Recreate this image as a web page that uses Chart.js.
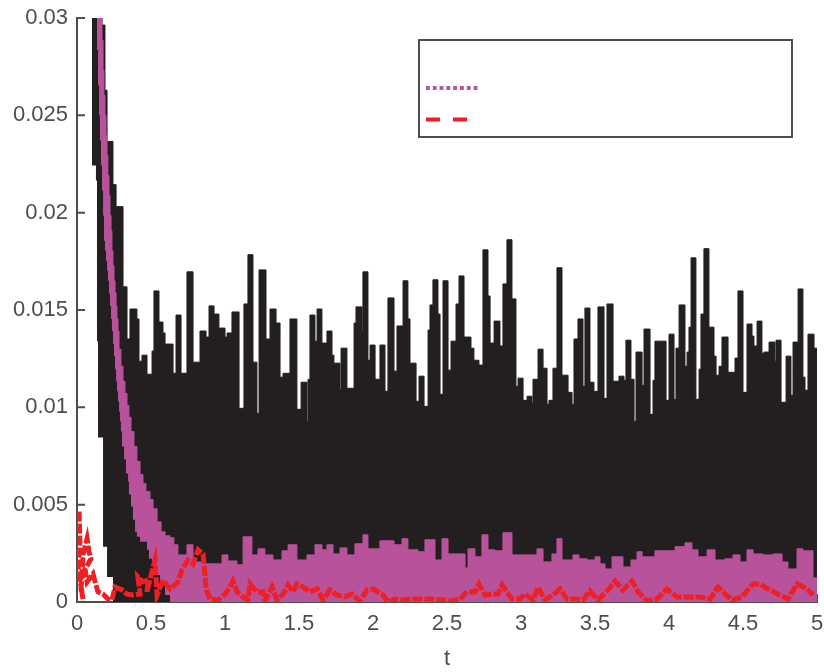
<!DOCTYPE html>
<html>
<head>
<meta charset="utf-8">
<script src="https://cdn.jsdelivr.net/npm/chart.js@4/dist/chart.umd.min.js"></script>
<style>
  html, body { margin: 0; padding: 0; background: #fff; }
  canvas { display: block; }
</style>
</head>
<body>
<canvas id="chart" width="824" height="672"></canvas>
<script>
// Tick labels
const xTickLabels = ['0', '0.5', '1', '1.5', '2', '2.5', '3', '3.5', '4', '4.5', '5'];
const yTickLabels = ['0', '0.005', '0.01', '0.015', '0.02', '0.025', '0.03'];

// Black series: upper edge of the solid band
const blackT = [0.101, 0.169, 0.189, 0.203, 0.243, 0.264, 0.311, 0.338, 0.358, 0.405, 0.419, 0.439, 0.473, 0.507, 0.520, 0.554, 0.581, 0.595, 0.649, 0.669, 0.703, 0.743, 0.784, 0.831, 0.872, 0.892, 0.926, 0.959, 1.000, 1.014, 1.047, 1.095, 1.128, 1.155, 1.189, 1.216, 1.230, 1.277, 1.304, 1.345, 1.372, 1.392, 1.439, 1.486, 1.514, 1.554, 1.561, 1.574, 1.608, 1.622, 1.655, 1.689, 1.723, 1.736, 1.777, 1.784, 1.824, 1.872, 1.885, 1.926, 1.932, 1.966, 1.980, 2.014, 2.047, 2.081, 2.101, 2.142, 2.162, 2.203, 2.236, 2.250, 2.291, 2.311, 2.345, 2.372, 2.385, 2.405, 2.439, 2.453, 2.473, 2.507, 2.527, 2.561, 2.581, 2.615, 2.662, 2.682, 2.716, 2.743, 2.777, 2.791, 2.818, 2.858, 2.878, 2.905, 2.939, 2.966, 2.980, 3.014, 3.041, 3.074, 3.081, 3.115, 3.149, 3.176, 3.189, 3.216, 3.243, 3.277, 3.318, 3.345, 3.358, 3.385, 3.419, 3.432, 3.466, 3.493, 3.520, 3.561, 3.581, 3.622, 3.662, 3.696, 3.709, 3.743, 3.764, 3.777, 3.818, 3.831, 3.872, 3.892, 3.905, 3.980, 4.000, 4.034, 4.047, 4.068, 4.108, 4.122, 4.135, 4.149, 4.182, 4.203, 4.216, 4.236, 4.270, 4.304, 4.318, 4.338, 4.358, 4.399, 4.446, 4.466, 4.500, 4.527, 4.561, 4.574, 4.595, 4.628, 4.642, 4.676, 4.716, 4.723, 4.757, 4.791, 4.824, 4.838, 4.872, 4.905, 4.919, 4.939, 4.980, 5.000];
const blackHigh = [0.0304, 0.0304, 0.02964, 0.02629, 0.02366, 0.02144, 0.02031, 0.01619, 0.01351, 0.01505, 0.01454, 0.01237, 0.01268, 0.0117, 0.01289, 0.01598, 0.01438, 0.01382, 0.01325, 0.01175, 0.01474, 0.01175, 0.01696, 0.01232, 0.01392, 0.01361, 0.01521, 0.01479, 0.01407, 0.01361, 0.01382, 0.0149, 0.00995, 0.01531, 0.01784, 0.01232, 0.00969, 0.01706, 0.01351, 0.01505, 0.01433, 0.01155, 0.01175, 0.01454, 0.0099, 0.01129, 0.00928, 0.01144, 0.01474, 0.0134, 0.01505, 0.0133, 0.01392, 0.01268, 0.01227, 0.01093, 0.01304, 0.01098, 0.01433, 0.01516, 0.0139, 0.01696, 0.01242, 0.0132, 0.01144, 0.0132, 0.01082, 0.01562, 0.01186, 0.01418, 0.0165, 0.01454, 0.01227, 0.01031, 0.0116, 0.01005, 0.01397, 0.01526, 0.01655, 0.01479, 0.01067, 0.0165, 0.01191, 0.0134, 0.01531, 0.01675, 0.01361, 0.01304, 0.01242, 0.01217, 0.01809, 0.01572, 0.0133, 0.01443, 0.01315, 0.01634, 0.01861, 0.01557, 0.01108, 0.0115, 0.01036, 0.01057, 0.01021, 0.01144, 0.01299, 0.01201, 0.01016, 0.01036, 0.01201, 0.01717, 0.01165, 0.01077, 0.01016, 0.01351, 0.01454, 0.01108, 0.0151, 0.01129, 0.01082, 0.01516, 0.01046, 0.01531, 0.01134, 0.0116, 0.01139, 0.01345, 0.01144, 0.00928, 0.01284, 0.01113, 0.01402, 0.00964, 0.01139, 0.0134, 0.01036, 0.01376, 0.01041, 0.01304, 0.01526, 0.01211, 0.01284, 0.01412, 0.01768, 0.01041, 0.01196, 0.01479, 0.01815, 0.01412, 0.01263, 0.01165, 0.01211, 0.01361, 0.0118, 0.01253, 0.01598, 0.01077, 0.01428, 0.01366, 0.01315, 0.01443, 0.01278, 0.01284, 0.01335, 0.01237, 0.01345, 0.01026, 0.01263, 0.01062, 0.01335, 0.01608, 0.01155, 0.01088, 0.01376, 0.01304];

// Black series: lower edge (only lifts off the axis at the start)
const blackLowT = [0.101, 0.128, 0.135, 0.142, 0.176, 0.203, 0.243, 5.0];
const blackLow = [0.0304, 0.02242, 0.02165, 0.01340, 0.00845, 0.00284, 0.00129, 0.0];

// Pink series: upper edge
const pinkT = [0.135, 0.169, 0.176, 0.182, 0.189, 0.196, 0.203, 0.209, 0.216, 0.223, 0.230, 0.236, 0.243, 0.250, 0.257, 0.264, 0.270, 0.277, 0.284, 0.297, 0.311, 0.324, 0.338, 0.351, 0.365, 0.385, 0.405, 0.426, 0.446, 0.466, 0.493, 0.514, 0.541, 0.568, 0.595, 0.628, 0.655, 0.682, 0.743, 0.784, 0.851, 0.980, 1.020, 1.081, 1.122, 1.182, 1.223, 1.270, 1.324, 1.385, 1.426, 1.486, 1.554, 1.608, 1.655, 1.689, 1.730, 1.777, 1.824, 1.878, 1.932, 1.966, 2.047, 2.142, 2.196, 2.236, 2.304, 2.351, 2.419, 2.466, 2.507, 2.568, 2.622, 2.642, 2.689, 2.736, 2.777, 2.824, 2.878, 2.939, 3.014, 3.108, 3.149, 3.209, 3.243, 3.277, 3.311, 3.351, 3.392, 3.446, 3.500, 3.534, 3.568, 3.615, 3.689, 3.743, 3.784, 3.818, 3.905, 3.993, 4.041, 4.108, 4.155, 4.196, 4.257, 4.311, 4.378, 4.432, 4.480, 4.527, 4.568, 4.635, 4.703, 4.764, 4.804, 4.865, 4.905, 4.973, 5.000];
const pinkHigh = [0.0304, 0.0304, 0.02887, 0.02732, 0.02603, 0.025, 0.02397, 0.02294, 0.02191, 0.02088, 0.01985, 0.01907, 0.01804, 0.01727, 0.0165, 0.01588, 0.01521, 0.01454, 0.01392, 0.01299, 0.01211, 0.01134, 0.01072, 0.0101, 0.00949, 0.00876, 0.00799, 0.00722, 0.00655, 0.00608, 0.00567, 0.00526, 0.00479, 0.00412, 0.00361, 0.0034, 0.0033, 0.00294, 0.00242, 0.00294, 0.00206, 0.00196, 0.00242, 0.00211, 0.00191, 0.00335, 0.00242, 0.00273, 0.00242, 0.00216, 0.00263, 0.00294, 0.00216, 0.00242, 0.00294, 0.00268, 0.00294, 0.00247, 0.00278, 0.00242, 0.00299, 0.00345, 0.00273, 0.00314, 0.00294, 0.00325, 0.00268, 0.00258, 0.0032, 0.00216, 0.00325, 0.00247, 0.00247, 0.00175, 0.00273, 0.00232, 0.00345, 0.00268, 0.00263, 0.00356, 0.00242, 0.00242, 0.00273, 0.00206, 0.00247, 0.00325, 0.00216, 0.00216, 0.00242, 0.00222, 0.00216, 0.00232, 0.00196, 0.0017, 0.00232, 0.0018, 0.00216, 0.00258, 0.00232, 0.00263, 0.00263, 0.00284, 0.00304, 0.00268, 0.00232, 0.00268, 0.00216, 0.00222, 0.00242, 0.00206, 0.00268, 0.00247, 0.00242, 0.00247, 0.00206, 0.0017, 0.00273, 0.00263, 0.00124];

// Pink series: lower edge
const pinkLowT = [0.135, 0.142, 0.149, 0.155, 0.162, 0.169, 0.176, 0.182, 0.189, 0.196, 0.203, 0.209, 0.216, 0.223, 0.230, 0.236, 0.243, 0.250, 0.257, 0.264, 0.270, 0.277, 0.284, 0.291, 0.297, 0.304, 0.318, 0.331, 0.345, 0.351, 0.365, 0.378, 0.392, 0.405, 0.426, 0.473, 0.486, 0.507, 0.527, 0.561, 0.595, 0.628, 0.642, 5.0];
const pinkLow = [0.0304, 0.02835, 0.02655, 0.025, 0.02371, 0.02242, 0.02114, 0.01985, 0.01856, 0.01804, 0.01753, 0.01701, 0.0165, 0.01583, 0.01521, 0.01454, 0.01392, 0.01325, 0.01263, 0.01196, 0.01134, 0.01082, 0.01031, 0.00979, 0.00928, 0.00876, 0.00799, 0.00732, 0.0066, 0.00619, 0.00552, 0.0049, 0.00423, 0.00361, 0.00335, 0.00309, 0.00268, 0.00222, 0.00191, 0.00139, 0.00088, 0.00036, 0.0, 0.0];

// Red series
const redT = [0.014, 0.020, 0.007, 0.041, 0.027, 0.041, 0.068, 0.081, 0.095, 0.054, 0.068, 0.108, 0.128, 0.142, 0.176, 0.209, 0.236, 0.257, 0.304, 0.338, 0.378, 0.426, 0.412, 0.446, 0.480, 0.473, 0.514, 0.527, 0.541, 0.581, 0.628, 0.682, 0.709, 0.750, 0.784, 0.818, 0.851, 0.865, 0.872, 0.899, 0.953, 1.000, 1.034, 1.054, 1.081, 1.122, 1.155, 1.169, 1.216, 1.257, 1.270, 1.318, 1.351, 1.392, 1.426, 1.459, 1.486, 1.527, 1.574, 1.622, 1.662, 1.709, 1.757, 1.811, 1.858, 1.912, 1.959, 2.000, 2.068, 2.101, 2.149, 2.203, 2.270, 2.338, 2.405, 2.473, 2.534, 2.588, 2.635, 2.689, 2.716, 2.757, 2.811, 2.845, 2.872, 2.905, 2.939, 2.993, 3.027, 3.081, 3.115, 3.162, 3.216, 3.264, 3.311, 3.378, 3.419, 3.466, 3.520, 3.588, 3.635, 3.689, 3.750, 3.791, 3.851, 3.919, 3.986, 4.054, 4.122, 4.209, 4.277, 4.331, 4.378, 4.426, 4.493, 4.568, 4.615, 4.669, 4.736, 4.804, 4.865, 4.932, 4.973];
const redV = [0.00464, 0.00309, 0.0018, 0.00015, 0.00067, 0.00242, 0.00325, 0.00258, 0.00222, 0.0017, 0.00103, 0.00144, 0.00088, 0.00052, 0.00041, 0.00015, 0.0001, 0.00077, 0.00062, 0.00041, 0.00036, 0.00041, 0.00129, 0.00103, 0.00113, 0.00052, 0.0018, 0.00216, 0.00036, 0.00113, 0.00067, 0.00103, 0.00165, 0.00216, 0.00196, 0.00268, 0.00247, 0.00139, 0.00067, 0.00015, 0.0001, 0.00041, 0.00077, 0.00108, 0.00052, 0.00026, 0.0001, 0.00093, 0.00052, 0.00052, 0.00005, 0.00077, 0.0001, 0.00041, 0.00088, 0.00052, 0.00093, 0.00077, 0.00052, 0.00067, 0.0001, 0.00062, 0.00036, 0.00026, 0.00041, 0.00005, 0.00062, 0.00067, 0.00036, 0.0, 0.00015, 0.0001, 0.00015, 0.00015, 0.00015, 0.0001, 0.00005, 0.00015, 0.00052, 0.00052, 0.00093, 0.00036, 0.00041, 0.00041, 0.00088, 0.00052, 0.00015, 0.00015, 0.00041, 0.0001, 0.00077, 0.0001, 0.00036, 0.00067, 0.00015, 0.00015, 0.0001, 0.00057, 0.0001, 0.00062, 0.00108, 0.00062, 0.00108, 0.00052, 0.00005, 0.00015, 0.00067, 0.00026, 0.00026, 0.00026, 0.00015, 0.00077, 0.00041, 0.0001, 0.00026, 0.00093, 0.00093, 0.00067, 0.00041, 0.00015, 0.00093, 0.00067, 0.00036];

const AXIS_COLOR = '#4d4d4d';
const BLACK = '#231f20';
const PINK = '#b8529b';
const RED = '#ee2024';

function toPoints(xs, ys) {
    return xs.map((x, i) => ({ x: x, y: ys[i] }));
}

// Ticks point inward, so they are drawn here and not by the scales
const inwardTicks = {
    id: 'inwardTicks',
    beforeDatasetsDraw(chart) {
        const { ctx, scales, chartArea } = chart;
        ctx.save();
        ctx.strokeStyle = AXIS_COLOR;
        ctx.lineWidth = 2;
        ctx.beginPath();
        scales.y.ticks.forEach(tick => {
            const y = scales.y.getPixelForValue(tick.value);
            ctx.moveTo(chartArea.left, y);
            ctx.lineTo(chartArea.left + 8, y);
        });
        scales.x.ticks.forEach(tick => {
            const x = scales.x.getPixelForValue(tick.value);
            ctx.moveTo(x, chartArea.bottom);
            ctx.lineTo(x, chartArea.bottom - 8);
        });
        ctx.stroke();
        ctx.restore();
    }
};

// Legend box has line samples only, no labels in the reference
const legendBox = {
    id: 'legendBox',
    afterDatasetsDraw(chart) {
        const { ctx } = chart;
        ctx.save();
        ctx.fillStyle = '#fff';
        ctx.strokeStyle = AXIS_COLOR;
        ctx.lineWidth = 2;
        ctx.fillRect(419, 40, 373, 97);
        ctx.strokeRect(419, 40, 373, 97);

        ctx.strokeStyle = PINK;
        ctx.lineWidth = 4;
        ctx.setLineDash([3.8, 3]);
        ctx.beginPath();
        ctx.moveTo(426, 88);
        ctx.lineTo(478, 88);
        ctx.stroke();

        ctx.strokeStyle = RED;
        ctx.setLineDash([14, 13]);
        ctx.beginPath();
        ctx.moveTo(426, 119.5);
        ctx.lineTo(468, 119.5);
        ctx.stroke();
        ctx.restore();
    }
};

new Chart(document.getElementById('chart').getContext('2d'), {
    type: 'scatter',
    data: {
        datasets: [
            { data: toPoints(redT, redV), showLine: true, borderColor: RED, borderWidth: 5, borderDash: [10, 2], pointRadius: 0, fill: false },
            { data: toPoints(pinkT, pinkHigh), showLine: true, stepped: 'after', borderColor: PINK, borderWidth: 1, pointRadius: 0, backgroundColor: PINK, fill: '+1' },
            { data: toPoints(pinkLowT, pinkLow), showLine: true, stepped: 'after', borderWidth: 0, pointRadius: 0, fill: false },
            { data: toPoints(blackT, blackHigh), showLine: true, stepped: 'after', borderColor: BLACK, borderWidth: 1, pointRadius: 0, backgroundColor: BLACK, fill: '+1' },
            { data: toPoints(blackLowT, blackLow), showLine: true, stepped: 'after', borderWidth: 0, pointRadius: 0, fill: false }
        ]
    },
    options: {
        responsive: false,
        animation: false,
        layout: { padding: { top: 18, right: 7, bottom: 0, left: 0 } },
        plugins: {
            legend: { display: false },
            tooltip: { enabled: false }
        },
        scales: {
            x: {
                type: 'linear',
                min: 0,
                max: 5,
                afterFit: scale => {
                    scale.height = 70;
                    scale.paddingLeft = 0;
                    scale.paddingRight = 0;
                },
                grid: { display: false, drawTicks: false },
                border: { color: AXIS_COLOR, width: 2 },
                ticks: {
                    stepSize: 0.5,
                    padding: 9,
                    maxRotation: 0,
                    autoSkip: false,
                    color: AXIS_COLOR,
                    font: { family: '"Liberation Sans"', size: 22 },
                    callback: (value, index) => xTickLabels[index]
                },
                title: {
                    display: true,
                    text: 't',
                    color: AXIS_COLOR,
                    padding: { top: 8, bottom: 0 },
                    font: { family: '"Liberation Sans"', size: 22 }
                }
            },
            y: {
                min: 0,
                max: 0.03,
                afterFit: scale => {
                    scale.width = 77;
                    scale.paddingTop = 0;
                    scale.paddingBottom = 0;
                },
                grid: { display: false, drawTicks: false },
                border: { color: AXIS_COLOR, width: 2 },
                ticks: {
                    stepSize: 0.005,
                    padding: 9,
                    color: AXIS_COLOR,
                    font: { family: '"Liberation Sans"', size: 22 },
                    callback: (value, index) => yTickLabels[index]
                }
            }
        }
    },
    plugins: [inwardTicks, legendBox]
});
</script>
</body>
</html>
